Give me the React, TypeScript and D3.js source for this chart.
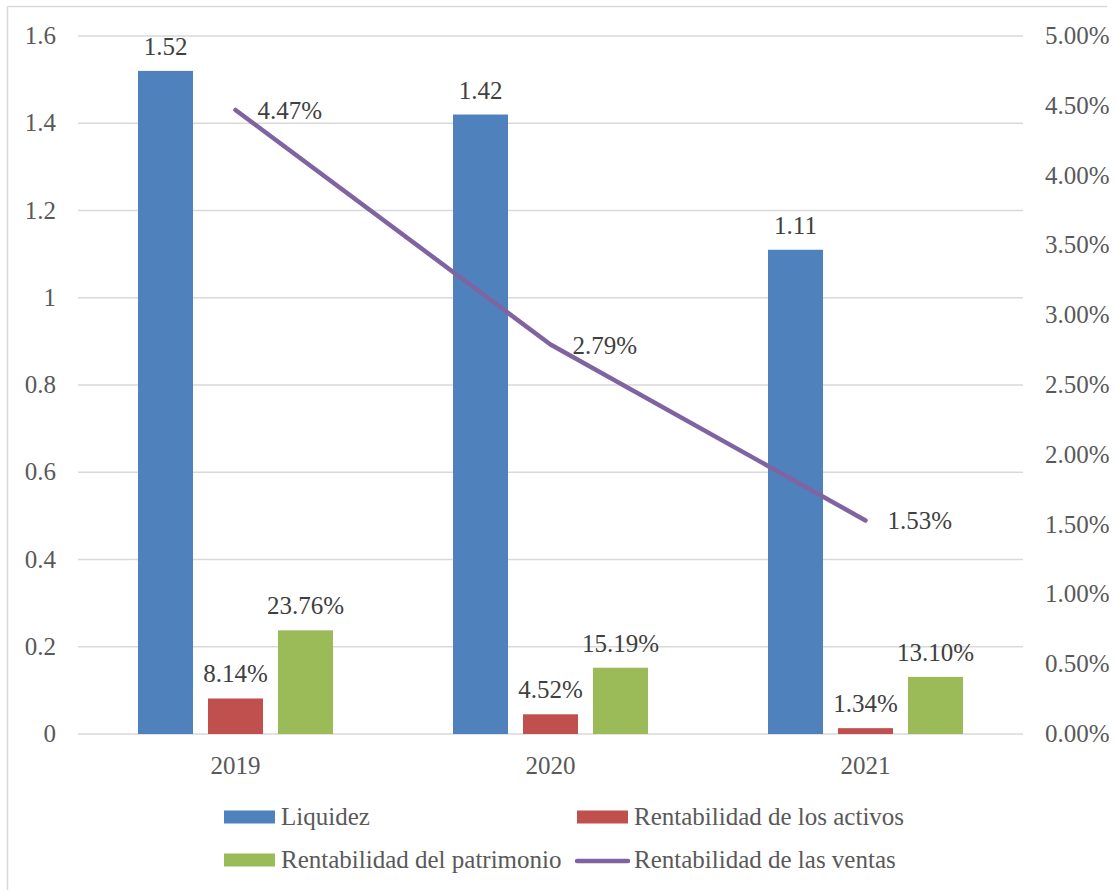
import React, { useEffect, useRef } from 'react';
import * as d3 from 'd3';

// data
const years = ['2019', '2020', '2021'];
const liquidez = [1.52, 1.42, 1.11];
const rentActivos = [0.0814, 0.0452, 0.0134];
const rentPatrimonio = [0.2376, 0.1519, 0.131];
const rentVentas = [0.0447, 0.0279, 0.0153];
const leftTicks = [0, 0.2, 0.4, 0.6, 0.8, 1, 1.2, 1.4, 1.6];
const rightTicks = [0, 0.005, 0.01, 0.015, 0.02, 0.025, 0.03, 0.035, 0.04, 0.045, 0.05];

const seriesNames = ['Liquidez', 'Rentabilidad de los activos', 'Rentabilidad del patrimonio'];
const seriesColors = ['#4F81BD', '#C0504D', '#9BBB59'];
const lineName = 'Rentabilidad de las ventas';
const lineColor = '#8064A2';

const FONT = '"Liberation Serif", "Times New Roman", serif';
const TEXT = '#595959';
const SIZE = '25px';

export default function App() {
  const ref = useRef<SVGSVGElement>(null);

  useEffect(() => {
    document.body.style.margin = '0';
    const svg = d3.select(ref.current);
    svg.selectAll('*').remove();

    // set the dimensions of the plot area
    const left = 78, right = 1023, top = 36, bottom = 734;

    const x = d3.scaleBand().domain(years).range([left, right]).paddingInner(0.381).paddingOuter(0.1905);
    const xSub = d3.scaleBand().domain(seriesNames).range([0, x.bandwidth()]).paddingInner(0.214);
    const yL = d3.scaleLinear().domain([0, 1.6]).range([bottom, top]);
    const yR = d3.scaleLinear().domain([0, 0.05]).range([bottom, top]);

    // chart border
    svg.append('line').attr('x1', 7.5).attr('x2', 7.5).attr('y1', 6.5).attr('y2', 890).attr('stroke', '#d9d9d9').attr('stroke-width', 1.5);
    svg.append('line').attr('x1', 7.5).attr('x2', 1107).attr('y1', 6.5).attr('y2', 6.5).attr('stroke', '#d9d9d9').attr('stroke-width', 1.5);

    // gridlines
    svg.append('g').selectAll('line').data(leftTicks).join('line')
      .attr('x1', left).attr('x2', right)
      .attr('y1', (d) => yL(d)).attr('y2', (d) => yL(d))
      .attr('stroke', '#d9d9d9').attr('stroke-width', 1.5);

    // left axis labels
    svg.append('g').selectAll('text').data(leftTicks).join('text')
      .attr('x', 56).attr('y', (d) => yL(d) + 8)
      .attr('text-anchor', 'end')
      .style('font-family', FONT).style('font-size', SIZE).attr('fill', TEXT)
      .text((d) => String(d));

    // right axis labels
    svg.append('g').selectAll('text').data(rightTicks).join('text')
      .attr('x', 1045).attr('y', (d) => yR(d) + 8)
      .style('font-family', FONT).style('font-size', SIZE).attr('fill', TEXT)
      .text((d) => (d * 100).toFixed(2) + '%');

    // x labels
    svg.append('g').selectAll('text').data(years).join('text')
      .attr('x', (d) => x(d)! + x.bandwidth() / 2).attr('y', 774)
      .attr('text-anchor', 'middle')
      .style('font-family', FONT).style('font-size', SIZE).attr('fill', TEXT)
      .text((d) => d);

    // bars
    const barData = [liquidez, rentActivos, rentPatrimonio];
    const fmt = [(v: number) => v.toFixed(2), (v: number) => (v * 100).toFixed(2) + '%', (v: number) => (v * 100).toFixed(2) + '%'];
    barData.forEach((vals, si) => {
      const name = seriesNames[si];
      const g = svg.append('g');
      g.selectAll('rect').data(vals).join('rect')
        .attr('x', (d, i) => x(years[i])! + xSub(name)!)
        .attr('y', (d) => yL(d))
        .attr('width', xSub.bandwidth())
        .attr('height', (d) => bottom - yL(d))
        .attr('fill', seriesColors[si]);
      g.selectAll('text').data(vals).join('text')
        .attr('x', (d, i) => x(years[i])! + xSub(name)! + xSub.bandwidth() / 2)
        .attr('y', (d) => yL(d) - 16)
        .attr('text-anchor', 'middle')
        .style('font-family', FONT).style('font-size', SIZE).attr('fill', '#404040')
        .text((d) => fmt[si](d));
    });

    // line series on right axis
    const cx = (i: number) => x(years[i])! + x.bandwidth() / 2;
    const valueline = d3.line<number>().x((d, i) => cx(i)).y((d) => yR(d));
    svg.append('path')
      .datum(rentVentas)
      .attr('d', valueline)
      .attr('fill', 'none')
      .attr('stroke', lineColor)
      .attr('stroke-width', 4.5)
      .attr('stroke-linecap', 'round')
      .attr('stroke-linejoin', 'round');
    svg.append('g').selectAll('text').data(rentVentas).join('text')
      .attr('x', (d, i) => cx(i) + 22)
      .attr('y', (d) => yR(d) + 9)
      .style('font-family', FONT).style('font-size', SIZE).attr('fill', '#404040')
      .text((d) => (d * 100).toFixed(2) + '%');

    // legend
    const legend = [
      { name: seriesNames[0], color: seriesColors[0], type: 'rect', x: 224, y: 817 },
      { name: seriesNames[1], color: seriesColors[1], type: 'rect', x: 577, y: 817 },
      { name: seriesNames[2], color: seriesColors[2], type: 'rect', x: 224, y: 860 },
      { name: lineName, color: lineColor, type: 'line', x: 577, y: 860 },
    ];
    legend.forEach((l) => {
      if (l.type === 'rect') {
        svg.append('rect').attr('x', l.x).attr('y', l.y - 6.5).attr('width', 51).attr('height', 13).attr('fill', l.color);
      } else {
        svg.append('line').attr('x1', l.x).attr('x2', l.x + 51).attr('y1', l.y + 1).attr('y2', l.y + 1)
          .attr('stroke', l.color).attr('stroke-width', 4.5).attr('stroke-linecap', 'round');
      }
      svg.append('text').attr('x', l.x + 57).attr('y', l.y + 8)
        .style('font-family', FONT).style('font-size', SIZE).attr('fill', TEXT)
        .text(l.name);
    });
  }, []);

  return (
    <div>
      <svg ref={ref} width={1118} height={890} style={{ display: 'block', background: '#fff' }}></svg>
    </div>
  );
}
